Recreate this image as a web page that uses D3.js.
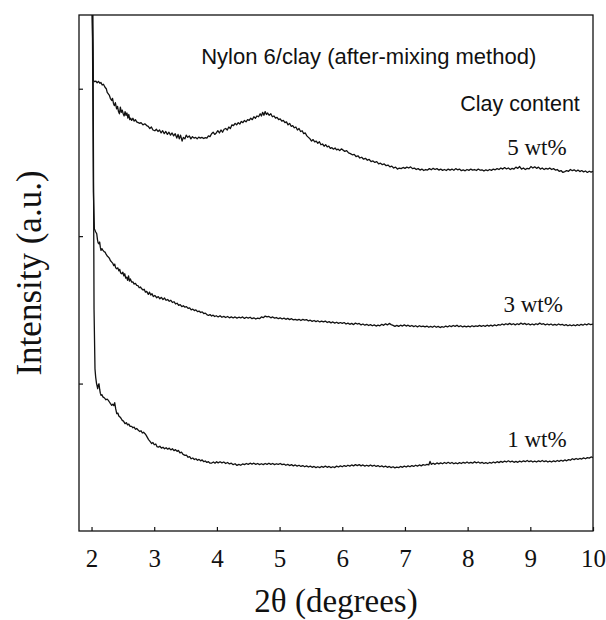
<!DOCTYPE html>
<html>
<head>
<meta charset="utf-8">
<script src="https://cdn.jsdelivr.net/npm/d3@7"></script>
<style>
  body { margin: 0; background: #fff; }
  svg { display: block; }
</style>
</head>
<body>
<div id="chart"></div>
<script>
// XRD traces: [2theta (deg), intensity (a.u., offset per trace)]
const wt5 = [
  [2.00, 3.70], [2.02, 3.30], [2.028, 3.056], [2.05, 3.048], [2.07, 3.052], [2.09, 3.040], [2.11, 3.05],
  [2.135, 3.037], [2.15, 3.042], [2.17, 3.025], [2.19, 3.03], [2.215, 3.010], [2.235, 3.00], [2.25, 2.975],
  [2.268, 2.965], [2.285, 2.955], [2.30, 2.935], [2.322, 2.920], [2.335, 2.935], [2.35, 2.90], [2.365, 2.885],
  [2.38, 2.905], [2.40, 2.864], [2.415, 2.88], [2.43, 2.845], [2.445, 2.83], [2.46, 2.875], [2.475, 2.84],
  [2.49, 2.855], [2.505, 2.83], [2.52, 2.815], [2.535, 2.845], [2.55, 2.82], [2.565, 2.835], [2.58, 2.80],
  [2.595, 2.825], [2.61, 2.79], [2.625, 2.80], [2.64, 2.785], [2.66, 2.80], [2.68, 2.78], [2.70, 2.79],
  [2.72, 2.775], [2.745, 2.77], [2.77, 2.765], [2.79, 2.77], [2.82, 2.755], [2.85, 2.762], [2.88, 2.750],
  [2.905, 2.745], [2.93, 2.73], [2.955, 2.74], [2.98, 2.72], [3.01, 2.715], [3.035, 2.725], [3.06, 2.71],
  [3.085, 2.72], [3.11, 2.70], [3.135, 2.715], [3.16, 2.695], [3.185, 2.71], [3.21, 2.69], [3.235, 2.705],
  [3.26, 2.685], [3.285, 2.70], [3.31, 2.68], [3.335, 2.695], [3.36, 2.665], [3.38, 2.69], [3.40, 2.66],
  [3.42, 2.685], [3.445, 2.645], [3.465, 2.67], [3.49, 2.66], [3.51, 2.685], [3.535, 2.67], [3.56, 2.68],
  [3.585, 2.66], [3.61, 2.675], [3.635, 2.665], [3.66, 2.67], [3.685, 2.66], [3.71, 2.672], [3.735, 2.665],
  [3.76, 2.67], [3.79, 2.662], [3.815, 2.668], [3.84, 2.665], [3.865, 2.68], [3.89, 2.675], [3.915, 2.695],
  [3.94, 2.705], [3.965, 2.69], [3.99, 2.70], [4.015, 2.715], [4.04, 2.70], [4.065, 2.72], [4.09, 2.705],
  [4.115, 2.725], [4.14, 2.73], [4.165, 2.72], [4.19, 2.74], [4.215, 2.73], [4.24, 2.755], [4.265, 2.75],
  [4.29, 2.765], [4.315, 2.755], [4.34, 2.77], [4.365, 2.76], [4.39, 2.778], [4.415, 2.77], [4.44, 2.785],
  [4.465, 2.775], [4.49, 2.79], [4.515, 2.785], [4.54, 2.80], [4.565, 2.79], [4.59, 2.81], [4.615, 2.80],
  [4.64, 2.815], [4.665, 2.81], [4.69, 2.83], [4.71, 2.815], [4.73, 2.84], [4.75, 2.82], [4.77, 2.845],
  [4.79, 2.825], [4.81, 2.835], [4.835, 2.82], [4.86, 2.83], [4.885, 2.81], [4.91, 2.815], [4.935, 2.80],
  [4.96, 2.805], [4.985, 2.79], [5.01, 2.795], [5.035, 2.78], [5.06, 2.785], [5.085, 2.77], [5.11, 2.775],
  [5.135, 2.755], [5.16, 2.765], [5.185, 2.745], [5.21, 2.75], [5.235, 2.735], [5.26, 2.74], [5.285, 2.72],
  [5.31, 2.73], [5.335, 2.71], [5.36, 2.715], [5.385, 2.695], [5.41, 2.70], [5.435, 2.68], [5.46, 2.67],
  [5.485, 2.66], [5.51, 2.645], [5.535, 2.655], [5.56, 2.64], [5.585, 2.645], [5.61, 2.63], [5.635, 2.64],
  [5.66, 2.62], [5.685, 2.625], [5.71, 2.61], [5.735, 2.62], [5.76, 2.605], [5.785, 2.61], [5.81, 2.595],
  [5.835, 2.60], [5.86, 2.59], [5.885, 2.598], [5.91, 2.585], [5.935, 2.59], [5.96, 2.58], [5.985, 2.592],
  [6.01, 2.585], [6.04, 2.575], [6.07, 2.58], [6.10, 2.565], [6.13, 2.56], [6.16, 2.552], [6.19, 2.555],
  [6.22, 2.54], [6.25, 2.545], [6.28, 2.53], [6.31, 2.535], [6.34, 2.522], [6.37, 2.528], [6.40, 2.515],
  [6.43, 2.52], [6.46, 2.505], [6.49, 2.51], [6.52, 2.50], [6.55, 2.505], [6.58, 2.49], [6.61, 2.495],
  [6.64, 2.485], [6.67, 2.49], [6.70, 2.478], [6.73, 2.482], [6.76, 2.47], [6.79, 2.475], [6.82, 2.462],
  [6.85, 2.468], [6.88, 2.455], [6.91, 2.462], [6.94, 2.458], [6.97, 2.466], [7.00, 2.46], [7.03, 2.468],
  [7.06, 2.462], [7.09, 2.47], [7.12, 2.458], [7.15, 2.462], [7.18, 2.452], [7.21, 2.458], [7.24, 2.448],
  [7.27, 2.455], [7.30, 2.445], [7.33, 2.452], [7.36, 2.448], [7.39, 2.458], [7.42, 2.45], [7.45, 2.46],
  [7.48, 2.452], [7.51, 2.458], [7.54, 2.448], [7.57, 2.455], [7.60, 2.446], [7.63, 2.452], [7.66, 2.445],
  [7.69, 2.455], [7.72, 2.448], [7.75, 2.455], [7.78, 2.447], [7.81, 2.458], [7.84, 2.45], [7.87, 2.455],
  [7.90, 2.444], [7.93, 2.45], [7.96, 2.443], [7.99, 2.452], [8.02, 2.446], [8.05, 2.455], [8.08, 2.448],
  [8.11, 2.452], [8.14, 2.445], [8.17, 2.455], [8.20, 2.447], [8.23, 2.45], [8.26, 2.442], [8.29, 2.45],
  [8.32, 2.444], [8.35, 2.452], [8.38, 2.446], [8.41, 2.455], [8.44, 2.45], [8.47, 2.458], [8.50, 2.452],
  [8.53, 2.462], [8.56, 2.455], [8.59, 2.465], [8.62, 2.456], [8.65, 2.462], [8.68, 2.452], [8.71, 2.46],
  [8.74, 2.455], [8.77, 2.468], [8.80, 2.46], [8.83, 2.472], [8.86, 2.455], [8.89, 2.462], [8.92, 2.452],
  [8.95, 2.46], [8.98, 2.456], [9.01, 2.472], [9.04, 2.462], [9.07, 2.47], [9.10, 2.46], [9.13, 2.468],
  [9.16, 2.455], [9.19, 2.462], [9.22, 2.452], [9.25, 2.46], [9.28, 2.455], [9.31, 2.462], [9.34, 2.452],
  [9.37, 2.458], [9.40, 2.448], [9.43, 2.452], [9.46, 2.44], [9.49, 2.445], [9.52, 2.432], [9.55, 2.438],
  [9.58, 2.445], [9.61, 2.44], [9.64, 2.452], [9.67, 2.444], [9.70, 2.45], [9.73, 2.44], [9.76, 2.448],
  [9.79, 2.438], [9.82, 2.445], [9.85, 2.436], [9.88, 2.442], [9.91, 2.432], [9.94, 2.44], [9.97, 2.434],
  [10.0, 2.44]
];
const wt3 = [
  [2.01, 3.70], [2.03, 2.30], [2.045, 2.05], [2.065, 2.03], [2.083, 2.016], [2.095, 1.975], [2.105, 1.955],
  [2.119, 1.948], [2.13, 1.96], [2.14, 1.925], [2.151, 1.903], [2.165, 1.915], [2.18, 1.905], [2.20, 1.895],
  [2.215, 1.892], [2.23, 1.88], [2.25, 1.865], [2.268, 1.858], [2.285, 1.85], [2.30, 1.835], [2.322, 1.824],
  [2.34, 1.815], [2.355, 1.80], [2.37, 1.81], [2.385, 1.785], [2.402, 1.779], [2.42, 1.785], [2.435, 1.765],
  [2.45, 1.775], [2.465, 1.75], [2.482, 1.745], [2.50, 1.755], [2.515, 1.73], [2.53, 1.745], [2.545, 1.715],
  [2.561, 1.722], [2.575, 1.70], [2.59, 1.73], [2.605, 1.695], [2.62, 1.71], [2.641, 1.688], [2.66, 1.69],
  [2.68, 1.675], [2.70, 1.68], [2.721, 1.666], [2.74, 1.665], [2.76, 1.65], [2.78, 1.655], [2.801, 1.643],
  [2.82, 1.635], [2.84, 1.64], [2.86, 1.62], [2.88, 1.625], [2.906, 1.605], [2.925, 1.62], [2.945, 1.60],
  [2.965, 1.61], [2.985, 1.59], [3.01, 1.598], [3.04, 1.582], [3.065, 1.59], [3.09, 1.575], [3.115, 1.585],
  [3.14, 1.57], [3.165, 1.58], [3.19, 1.565], [3.215, 1.57], [3.24, 1.558], [3.265, 1.565], [3.29, 1.55],
  [3.315, 1.555], [3.34, 1.54], [3.365, 1.545], [3.39, 1.53], [3.415, 1.535], [3.44, 1.522], [3.465, 1.528],
  [3.49, 1.518], [3.515, 1.522], [3.54, 1.51], [3.565, 1.514], [3.59, 1.50], [3.615, 1.505], [3.64, 1.495],
  [3.665, 1.50], [3.69, 1.488], [3.715, 1.492], [3.74, 1.482], [3.765, 1.486], [3.79, 1.475], [3.815, 1.478],
  [3.84, 1.468], [3.865, 1.462], [3.89, 1.468], [3.915, 1.458], [3.94, 1.464], [3.965, 1.455], [3.99, 1.46],
  [4.02, 1.452], [4.05, 1.46], [4.08, 1.45], [4.11, 1.456], [4.14, 1.448], [4.17, 1.455], [4.20, 1.446],
  [4.23, 1.452], [4.26, 1.445], [4.29, 1.452], [4.32, 1.444], [4.35, 1.45], [4.38, 1.445], [4.41, 1.452],
  [4.44, 1.442], [4.47, 1.45], [4.50, 1.444], [4.53, 1.45], [4.56, 1.44], [4.59, 1.446], [4.62, 1.438],
  [4.65, 1.444], [4.68, 1.44], [4.71, 1.452], [4.74, 1.447], [4.77, 1.458], [4.80, 1.452], [4.83, 1.455],
  [4.86, 1.446], [4.89, 1.452], [4.92, 1.444], [4.95, 1.448], [4.98, 1.44], [5.01, 1.446], [5.04, 1.438],
  [5.07, 1.444], [5.10, 1.436], [5.13, 1.442], [5.16, 1.434], [5.19, 1.44], [5.22, 1.432], [5.25, 1.436],
  [5.28, 1.43], [5.31, 1.436], [5.34, 1.428], [5.37, 1.435], [5.40, 1.43], [5.43, 1.434], [5.46, 1.425],
  [5.49, 1.43], [5.52, 1.422], [5.55, 1.428], [5.58, 1.42], [5.61, 1.426], [5.64, 1.418], [5.67, 1.424],
  [5.70, 1.418], [5.73, 1.424], [5.76, 1.414], [5.79, 1.42], [5.82, 1.412], [5.85, 1.418], [5.88, 1.41],
  [5.91, 1.416], [5.94, 1.408], [5.97, 1.414], [6.00, 1.408], [6.03, 1.414], [6.06, 1.404], [6.09, 1.41],
  [6.12, 1.402], [6.15, 1.408], [6.18, 1.40], [6.21, 1.41], [6.24, 1.404], [6.27, 1.408], [6.30, 1.398],
  [6.33, 1.404], [6.36, 1.396], [6.39, 1.402], [6.42, 1.394], [6.45, 1.40], [6.48, 1.392], [6.51, 1.398],
  [6.54, 1.39], [6.57, 1.396], [6.60, 1.392], [6.63, 1.402], [6.66, 1.395], [6.69, 1.405], [6.72, 1.398],
  [6.75, 1.408], [6.78, 1.40], [6.81, 1.395], [6.84, 1.388], [6.87, 1.395], [6.90, 1.388], [6.93, 1.396],
  [6.96, 1.39], [6.99, 1.398], [7.02, 1.39], [7.05, 1.396], [7.08, 1.388], [7.11, 1.394], [7.14, 1.386],
  [7.17, 1.392], [7.20, 1.385], [7.23, 1.392], [7.26, 1.386], [7.29, 1.39], [7.32, 1.384], [7.35, 1.39],
  [7.38, 1.382], [7.41, 1.388], [7.44, 1.382], [7.47, 1.39], [7.50, 1.382], [7.53, 1.388], [7.56, 1.38],
  [7.59, 1.386], [7.62, 1.382], [7.65, 1.39], [7.68, 1.384], [7.71, 1.392], [7.74, 1.386], [7.77, 1.394],
  [7.80, 1.388], [7.83, 1.396], [7.86, 1.386], [7.89, 1.392], [7.92, 1.384], [7.95, 1.39], [7.98, 1.384],
  [8.01, 1.39], [8.04, 1.385], [8.07, 1.392], [8.10, 1.386], [8.13, 1.392], [8.16, 1.388], [8.19, 1.395],
  [8.22, 1.388], [8.25, 1.394], [8.28, 1.388], [8.31, 1.396], [8.34, 1.39], [8.37, 1.396], [8.40, 1.39],
  [8.43, 1.398], [8.46, 1.392], [8.49, 1.40], [8.52, 1.396], [8.55, 1.404], [8.58, 1.398], [8.61, 1.406],
  [8.64, 1.40], [8.67, 1.408], [8.70, 1.40], [8.73, 1.406], [8.76, 1.398], [8.79, 1.406], [8.82, 1.40],
  [8.85, 1.41], [8.88, 1.402], [8.91, 1.408], [8.94, 1.40], [8.97, 1.406], [9.00, 1.398], [9.03, 1.404],
  [9.06, 1.398], [9.09, 1.406], [9.12, 1.40], [9.15, 1.41], [9.18, 1.402], [9.21, 1.406], [9.24, 1.398],
  [9.27, 1.404], [9.30, 1.398], [9.33, 1.404], [9.36, 1.396], [9.39, 1.402], [9.42, 1.396], [9.45, 1.404],
  [9.48, 1.398], [9.51, 1.402], [9.54, 1.394], [9.57, 1.40], [9.60, 1.392], [9.63, 1.398], [9.66, 1.392],
  [9.69, 1.398], [9.72, 1.392], [9.75, 1.40], [9.78, 1.394], [9.81, 1.402], [9.84, 1.396], [9.87, 1.404],
  [9.90, 1.398], [9.93, 1.406], [9.96, 1.40], [10.0, 1.404]
];
const wt1 = [
  [2.02, 3.70], [2.04, 1.50], [2.055, 1.10], [2.066, 1.044], [2.08, 1.00], [2.098, 0.965], [2.108, 0.99],
  [2.119, 0.999], [2.13, 0.96], [2.14, 0.935], [2.151, 0.92], [2.165, 0.925], [2.18, 0.91], [2.20, 0.905],
  [2.215, 0.898], [2.23, 0.89], [2.25, 0.895], [2.268, 0.886], [2.285, 0.875], [2.30, 0.865], [2.322, 0.852],
  [2.34, 0.86], [2.355, 0.85], [2.37, 0.87], [2.385, 0.83], [2.402, 0.796], [2.42, 0.80], [2.435, 0.78],
  [2.454, 0.773], [2.47, 0.765], [2.49, 0.75], [2.51, 0.745], [2.534, 0.728], [2.555, 0.735], [2.575, 0.72],
  [2.595, 0.725], [2.615, 0.71], [2.641, 0.71], [2.66, 0.70], [2.68, 0.705], [2.70, 0.69], [2.72, 0.695],
  [2.747, 0.683], [2.77, 0.675], [2.79, 0.68], [2.81, 0.665], [2.83, 0.67], [2.853, 0.66], [2.87, 0.65],
  [2.89, 0.635], [2.91, 0.62], [2.93, 0.61], [2.96, 0.593], [2.98, 0.60], [3.00, 0.585], [3.025, 0.59],
  [3.045, 0.572], [3.066, 0.569], [3.09, 0.575], [3.115, 0.562], [3.14, 0.568], [3.165, 0.558], [3.19, 0.565],
  [3.215, 0.555], [3.24, 0.562], [3.265, 0.55], [3.29, 0.558], [3.315, 0.545], [3.34, 0.552], [3.365, 0.54],
  [3.385, 0.547], [3.41, 0.53], [3.435, 0.535], [3.46, 0.52], [3.492, 0.513], [3.515, 0.515], [3.54, 0.50],
  [3.565, 0.505], [3.59, 0.49], [3.615, 0.495], [3.64, 0.485], [3.665, 0.49], [3.69, 0.48], [3.715, 0.486],
  [3.74, 0.476], [3.765, 0.482], [3.79, 0.47], [3.815, 0.475], [3.84, 0.465], [3.865, 0.47], [3.89, 0.46],
  [3.918, 0.461], [3.945, 0.468], [3.97, 0.46], [3.995, 0.47], [4.02, 0.462], [4.05, 0.47], [4.08, 0.462],
  [4.11, 0.468], [4.14, 0.458], [4.17, 0.465], [4.20, 0.455], [4.23, 0.46], [4.26, 0.45], [4.29, 0.456],
  [4.32, 0.445], [4.35, 0.452], [4.38, 0.446], [4.41, 0.455], [4.44, 0.45], [4.47, 0.458], [4.50, 0.452],
  [4.53, 0.46], [4.56, 0.454], [4.59, 0.46], [4.62, 0.452], [4.65, 0.458], [4.68, 0.45], [4.71, 0.456],
  [4.74, 0.45], [4.77, 0.458], [4.80, 0.452], [4.83, 0.46], [4.86, 0.452], [4.89, 0.458], [4.92, 0.45],
  [4.95, 0.456], [4.98, 0.452], [5.01, 0.458], [5.04, 0.45], [5.07, 0.454], [5.10, 0.446], [5.13, 0.452],
  [5.16, 0.444], [5.19, 0.45], [5.22, 0.442], [5.25, 0.448], [5.28, 0.44], [5.31, 0.446], [5.34, 0.438],
  [5.37, 0.444], [5.40, 0.436], [5.43, 0.442], [5.46, 0.434], [5.49, 0.44], [5.52, 0.432], [5.55, 0.438],
  [5.58, 0.43], [5.61, 0.436], [5.64, 0.43], [5.67, 0.438], [5.70, 0.432], [5.73, 0.44], [5.76, 0.432],
  [5.79, 0.438], [5.82, 0.43], [5.85, 0.436], [5.88, 0.43], [5.91, 0.44], [5.94, 0.434], [5.97, 0.442],
  [6.00, 0.436], [6.03, 0.444], [6.06, 0.438], [6.09, 0.446], [6.12, 0.44], [6.15, 0.448], [6.18, 0.442],
  [6.21, 0.45], [6.24, 0.444], [6.27, 0.45], [6.30, 0.442], [6.33, 0.448], [6.36, 0.44], [6.39, 0.446],
  [6.42, 0.44], [6.45, 0.448], [6.48, 0.44], [6.51, 0.446], [6.54, 0.438], [6.57, 0.444], [6.60, 0.436],
  [6.63, 0.442], [6.66, 0.434], [6.69, 0.44], [6.72, 0.432], [6.75, 0.438], [6.78, 0.43], [6.81, 0.436],
  [6.84, 0.428], [6.87, 0.434], [6.90, 0.43], [6.93, 0.438], [6.96, 0.432], [6.99, 0.44], [7.02, 0.434],
  [7.05, 0.442], [7.08, 0.436], [7.11, 0.444], [7.14, 0.438], [7.17, 0.446], [7.20, 0.44], [7.23, 0.448],
  [7.26, 0.442], [7.29, 0.45], [7.32, 0.446], [7.35, 0.452], [7.38, 0.448], [7.40, 0.472], [7.42, 0.452],
  [7.45, 0.46], [7.48, 0.452], [7.51, 0.462], [7.54, 0.455], [7.57, 0.462], [7.60, 0.456], [7.63, 0.465],
  [7.66, 0.458], [7.69, 0.466], [7.72, 0.458], [7.75, 0.465], [7.78, 0.456], [7.81, 0.462], [7.84, 0.456],
  [7.87, 0.464], [7.90, 0.458], [7.93, 0.466], [7.96, 0.46], [7.99, 0.468], [8.02, 0.46], [8.05, 0.466],
  [8.08, 0.46], [8.11, 0.47], [8.14, 0.462], [8.17, 0.468], [8.20, 0.46], [8.23, 0.466], [8.26, 0.458],
  [8.29, 0.464], [8.32, 0.458], [8.35, 0.465], [8.38, 0.46], [8.41, 0.468], [8.44, 0.462], [8.47, 0.47],
  [8.50, 0.464], [8.53, 0.472], [8.56, 0.466], [8.59, 0.474], [8.62, 0.468], [8.65, 0.476], [8.68, 0.468],
  [8.71, 0.474], [8.74, 0.466], [8.77, 0.472], [8.80, 0.466], [8.83, 0.474], [8.86, 0.468], [8.89, 0.476],
  [8.92, 0.47], [8.95, 0.478], [8.98, 0.47], [9.01, 0.476], [9.04, 0.468], [9.07, 0.474], [9.10, 0.468],
  [9.13, 0.476], [9.16, 0.47], [9.19, 0.478], [9.22, 0.47], [9.25, 0.476], [9.28, 0.468], [9.31, 0.474],
  [9.34, 0.468], [9.37, 0.476], [9.40, 0.47], [9.43, 0.478], [9.46, 0.472], [9.49, 0.48], [9.52, 0.474],
  [9.55, 0.482], [9.58, 0.476], [9.61, 0.484], [9.64, 0.48], [9.67, 0.49], [9.70, 0.484], [9.73, 0.492],
  [9.76, 0.486], [9.79, 0.492], [9.82, 0.488], [9.85, 0.496], [9.88, 0.49], [9.91, 0.498], [9.94, 0.494],
  [9.97, 0.502], [10.0, 0.498]
];

const xTicks = [2, 3, 4, 5, 6, 7, 8, 9, 10];
const yTicks = [1, 2, 3];
const seriesNames = ['5 wt%', '3 wt%', '1 wt%'];
// label anchor points [2theta, intensity] for the wt% labels
const labelAt = [[9.58, 2.55], [9.52, 1.488], [9.58, 0.572]];

const width = 514;
const height = 516;
const margin = { top: 15, right: 13, bottom: 89, left: 79 };

const svg = d3.select('#chart').append('svg')
  .attr('width', width + margin.left + margin.right)
  .attr('height', height + margin.top + margin.bottom);

const graph = svg.append('g')
  .attr('transform', `translate(${margin.left},${margin.top})`);

const x = d3.scaleLinear().domain([1.8, 10]).range([0, width]);
const y = d3.scaleLinear().domain([0, 3.5]).range([height, 0]);

graph.append('clipPath').attr('id', 'plot-clip')
  .append('rect').attr('width', width).attr('height', height);

// axes: ticks point inward
graph.append('g')
  .attr('transform', `translate(0,${height})`)
  .call(d3.axisBottom(x).tickValues(xTicks).tickSize(-4).tickPadding(18).tickSizeOuter(0))
  .call(g => g.select('.domain').remove())
  .call(g => g.selectAll('.tick line').attr('stroke', '#111').attr('stroke-width', 1.2))
  .call(g => g.selectAll('.tick text')
    .attr('font-family', '"Liberation Serif", "Times New Roman", serif')
    .attr('font-size', '25px')
    .attr('fill', '#111'));

graph.append('g')
  .call(d3.axisLeft(y).tickValues(yTicks).tickSize(-4).tickFormat('').tickSizeOuter(0))
  .call(g => g.select('.domain').remove())
  .call(g => g.selectAll('.tick line').attr('stroke', '#111').attr('stroke-width', 1.2));

graph.append('rect')
  .attr('width', width)
  .attr('height', height)
  .attr('fill', 'none')
  .attr('stroke', '#111')
  .attr('stroke-width', 1.3);

const line = d3.line()
  .x(d => x(d[0]))
  .y(d => y(d[1]));

graph.append('g')
  .attr('clip-path', 'url(#plot-clip)')
  .selectAll('path')
  .data([wt5, wt3, wt1])
  .enter().append('path')
  .attr('d', line)
  .attr('fill', 'none')
  .attr('stroke', '#111')
  .attr('stroke-width', 1.3)
  .attr('stroke-linejoin', 'round');

// annotations
graph.append('text')
  .attr('x', x(3.75))
  .attr('y', 49)
  .attr('font-family', '"Liberation Sans", Arial, sans-serif')
  .attr('font-size', '22px')
  .attr('fill', '#111')
  .text('Nylon 6/clay (after-mixing method)');

graph.append('text')
  .attr('x', x(9.79))
  .attr('y', 96)
  .attr('text-anchor', 'end')
  .attr('font-family', '"Liberation Sans", Arial, sans-serif')
  .attr('font-size', '21.5px')
  .attr('fill', '#111')
  .text('Clay content');

graph.append('g')
  .selectAll('text')
  .data(seriesNames)
  .enter().append('text')
  .attr('x', (d, i) => x(labelAt[i][0]))
  .attr('y', (d, i) => y(labelAt[i][1]))
  .attr('text-anchor', 'end')
  .attr('font-family', '"Liberation Serif", "Times New Roman", serif')
  .attr('font-size', '23px')
  .attr('fill', '#111')
  .text(d => d);

// axis titles
svg.append('text')
  .attr('x', margin.left + width / 2)
  .attr('y', 612)
  .attr('text-anchor', 'middle')
  .attr('font-family', '"Liberation Serif", "Times New Roman", serif')
  .attr('font-size', '33px')
  .attr('fill', '#111')
  .text('2θ (degrees)');

svg.append('text')
  .attr('transform', `translate(41,273) rotate(-90)`)
  .attr('text-anchor', 'middle')
  .attr('font-family', '"Liberation Serif", "Times New Roman", serif')
  .attr('font-size', '35px')
  .attr('fill', '#111')
  .text('Intensity (a.u.)');
</script>
</body>
</html>
